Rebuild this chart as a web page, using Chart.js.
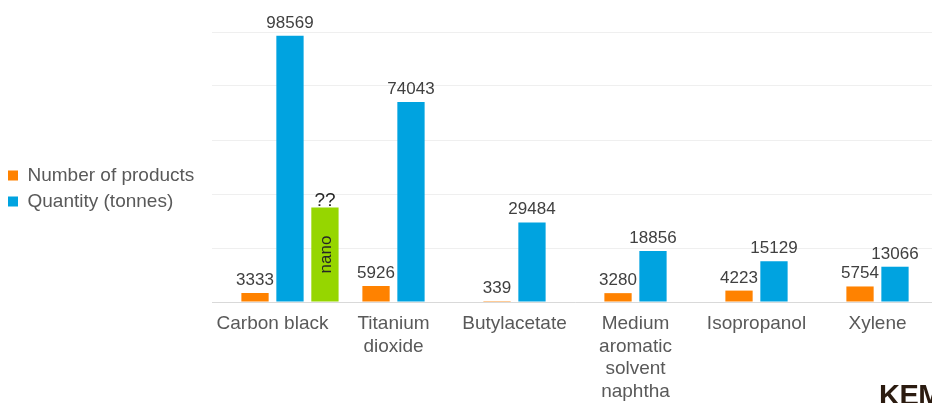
<!DOCTYPE html>
<html>
<head>
<meta charset="utf-8">
<title>Carbon black and other substances</title>
<script src="https://cdn.jsdelivr.net/npm/chart.js@4.4.1/dist/chart.umd.min.js"></script>
<style>
  html, body { margin: 0; padding: 0; background: #fff; overflow: hidden; }
  #wrap { position: relative; width: 940px; height: 403px; }
  #logo {
    position: absolute; left: 879px; top: 381px;
    font: bold 29px "Liberation Sans", Arial, sans-serif;
    letter-spacing: -0.5px;
    line-height: 29px; color: #2b1b10; white-space: nowrap;
  }
</style>
</head>
<body>
<div id="wrap"><canvas id="chart"></canvas></div>
<div id="logo">KEMI</div>
<script>
/* ── data ──────────────────────────────────────────────────────────────── */

var categories    = ["Carbon black", ["Titanium", "dioxide"], "Butylacetate",
                     ["Medium", "aromatic", "solvent", "naphtha"], "Isopropanol", "Xylene"];
var productCounts = [3333, 5926, 339, 3280, 4223, 5754];
var quantities    = [98569, 74043, 29484, 18856, 15129, 13066];
var seriesNames   = ["Number of products", "Quantity (tonnes)"];

// Extra bar next to carbon black: unknown nano share, shown as "??"
var nanoQuantities = [35000, null, null, null, null, null];
var nanoText       = "nano";
var nanoMark       = "??";

var yMax  = 100000;
var yStep = 20000;

/* ── look ──────────────────────────────────────────────────────────────── */

var FONT      = "'Liberation Sans', Arial, sans-serif";
var ORANGE    = "#ff8200";
var BLUE      = "#00a3e0";
var GREEN     = "#96d600";
var PLOT_LEFT = 211;    // px from canvas edge to plot area
var X_AXIS_H  = 101;    // px reserved under the plot for category labels

// Each category is laid out as four slots: [empty | orange | blue | nano].
// The empty slot mirrors the nano slot, so the orange/blue pair stays
// centred on its category label while the nano bar hangs off to the right.
var SPACER = { label: "", data: [], backgroundColor: "rgba(0,0,0,0)" };

// Numbers above bars, plus the "??" / "nano" annotation on the green bar.
var valueLabels = {
    id: "valueLabels",
    afterDatasetsDraw: function(chart) {
        var ctx = chart.ctx;
        ctx.save();
        ctx.textAlign = "center";
        ctx.textBaseline = "alphabetic";
        ctx.font = "17px " + FONT;
        ctx.fillStyle = "#404040";
        [1, 2].forEach(function(di) {
            chart.getDatasetMeta(di).data.forEach(function(bar, i) {
                ctx.fillText(String(chart.data.datasets[di].data[i]), bar.x, bar.y - 8);
            });
        });

        chart.getDatasetMeta(3).data.forEach(function(bar, i) {
            if (nanoQuantities[i] == null) return;
            ctx.save();
            ctx.fillStyle = "#262626";
            ctx.font = "19px " + FONT;
            ctx.textBaseline = "alphabetic";
            ctx.fillText(nanoMark, bar.x, bar.y - 2);

            ctx.translate(bar.x + 1, (bar.y + bar.base) / 2);
            ctx.rotate(-Math.PI / 2);
            ctx.textBaseline = "middle";
            ctx.font = "17px " + FONT;
            ctx.fillText(nanoText, 0, 0);
            ctx.restore();
        });
        ctx.restore();
    }
};

new Chart(document.getElementById("chart"), {
    type: "bar",
    data: {
        labels: categories,
        datasets: [
            SPACER,
            { label: seriesNames[0], data: productCounts,  backgroundColor: ORANGE },
            { label: seriesNames[1], data: quantities,     backgroundColor: BLUE },
            { label: nanoText,       data: nanoQuantities, backgroundColor: GREEN }
        ]
    },
    options: {
        responsive: true,
        maintainAspectRatio: false,
        animation: false,
        events: [],
        datasets: {
            bar: {
                categoryPercentage: 1.156,   // four slots of ~35px per 121px category
                barPercentage: 0.78
            }
        },
        layout: { padding: { top: 32, right: 2, left: 1, bottom: 0 } },
        plugins: {
            tooltip: { enabled: false },
            legend: {
                position: "left",
                align: "start",
                // empty title used only as a spacer above the two entries
                title: {
                    display: true,
                    text: " ",
                    font: { size: 10, lineHeight: 1 },
                    padding: { top: 0, bottom: 117 }
                },
                labels: {
                    filter: function(item) {
                        return item.datasetIndex === 1 || item.datasetIndex === 2;
                    },
                    boxWidth: 10,
                    boxHeight: 10,
                    padding: 7,
                    color: "#595959",
                    font: { family: FONT, size: 19 }
                }
            }
        },
        scales: {
            x: {
                grid: { display: false, drawTicks: false },
                border: { display: true, color: "#d9d9d9" },
                ticks: {
                    autoSkip: false,
                    maxRotation: 0,
                    padding: 11,
                    color: "#595959",
                    font: { family: FONT, size: 19, lineHeight: 1.18 }
                },
                afterFit: function(scale) { scale.height = X_AXIS_H; }
            },
            y: {
                min: 0,
                max: yMax,
                ticks: { display: false, stepSize: yStep },
                border: { display: false },
                grid: { color: "#efefef", drawTicks: false },
                afterFit: function(scale) {
                    scale.width = Math.max(0, PLOT_LEFT - scale.chart.legend.width);
                }
            }
        }
    },
    plugins: [valueLabels]
});
</script>
</body>
</html>
